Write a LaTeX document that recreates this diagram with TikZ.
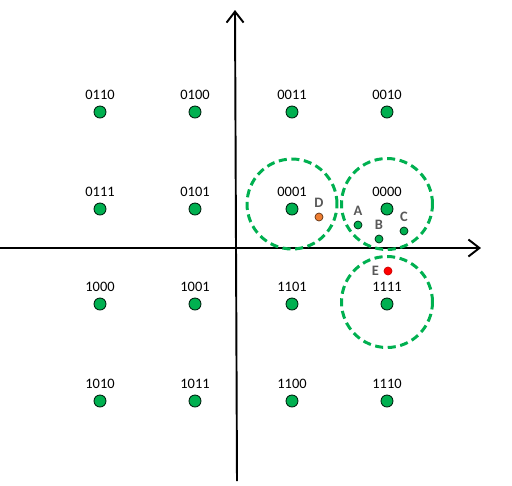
\documentclass[tikz,border=0pt]{standalone}
\usepackage{fontspec}
\setmainfont{Carlito}
\usepackage{xcolor}
\usepackage{tikz}
\usetikzlibrary{arrows.meta}

\definecolor{ptgreen}{HTML}{00B050}
\definecolor{ptorange}{HTML}{ED7D31}
\definecolor{ptred}{HTML}{FF0000}
\definecolor{tagray}{HTML}{595959}

\begin{document}
\begin{tikzpicture}[
    x=0.02cm,y=-0.02cm,
    pt/.style={circle, draw=black!80!ptgreen, fill=ptgreen, line width=0.5pt,
               minimum size=0.24cm, inner sep=0pt},
    spt/.style={circle, draw=black!80!ptgreen, fill=ptgreen, line width=0.4pt,
                minimum size=0.16cm, inner sep=0pt},
    lbl/.style={font=\fontsize{8.2}{10}\selectfont, inner sep=0pt, label distance=1.1mm},
    tag/.style={font=\fontsize{8.2}{10}\selectfont\bfseries, text=tagray, inner sep=0pt,
                label distance=0.9mm},
    ring/.style={draw=ptgreen, line width=1.7pt, dash pattern=on 4.6pt off 2.6pt},
    axis/.style={-{Straight Barb[length=2.2mm,width=3.4mm]}, line width=1.1pt}
]
\useasboundingbox (0,0) rectangle (512,485);

% Axes
\coordinate (xl) at (0,248);
\coordinate (xr) at (481,248);
\coordinate (yb) at (237,481);
\coordinate (yt) at (235,10);
\draw[axis] (xl) -- (xr);
\draw[axis] (yb) -- (yt);

% Constellation points
\node[pt, label={[lbl]above:0110}] (p0110) at (100,112) {};
\node[pt, label={[lbl]above:0100}] (p0100) at (195,112) {};
\node[pt, label={[lbl]above:0011}] (p0011) at (292,112) {};
\node[pt, label={[lbl]above:0010}] (p0010) at (387,112) {};
\node[pt, label={[lbl]above:0111}] (p0111) at (100,209) {};
\node[pt, label={[lbl]above:0101}] (p0101) at (195,209) {};
\node[pt, label={[lbl]above:0001}] (p0001) at (292,209) {};
\node[pt, label={[lbl]above:0000}] (p0000) at (387,209) {};
\node[pt, label={[lbl]above:1000}] (p1000) at (100,304) {};
\node[pt, label={[lbl]above:1001}] (p1001) at (195,304) {};
\node[pt, label={[lbl]above:1101}] (p1101) at (292,304) {};
\node[pt, label={[lbl]above:1111}] (p1111) at (387,304) {};
\node[pt, label={[lbl]above:1010}] (p1010) at (100,401) {};
\node[pt, label={[lbl]above:1011}] (p1011) at (195,401) {};
\node[pt, label={[lbl]above:1100}] (p1100) at (292,401) {};
\node[pt, label={[lbl]above:1110}] (p1110) at (387,401) {};

% Decision regions
\draw[ring] ([yshift=0.1cm]p0001.center) circle[radius=0.9cm];
\draw[ring] ([yshift=0.1cm]p0000.center) circle[radius=0.91cm];
\draw[ring] ([yshift=0.04cm]p1111.center) circle[radius=0.91cm];

% Received samples
\node[spt, fill=ptorange, draw=black!60!ptorange, label={[tag]above:D}] (rD) at (319,217) {};
\node[spt, label={[tag]above:A}] (rA) at (358,225) {};
\node[spt, label={[tag]above:B}] (rB) at (379,239) {};
\node[spt, label={[tag]above:C}] (rC) at (404,231) {};
\node[spt, fill=ptred, draw=ptred!80!black, label={[tag]left:E}] (rE) at (388,271) {};
\end{tikzpicture}
\end{document}
